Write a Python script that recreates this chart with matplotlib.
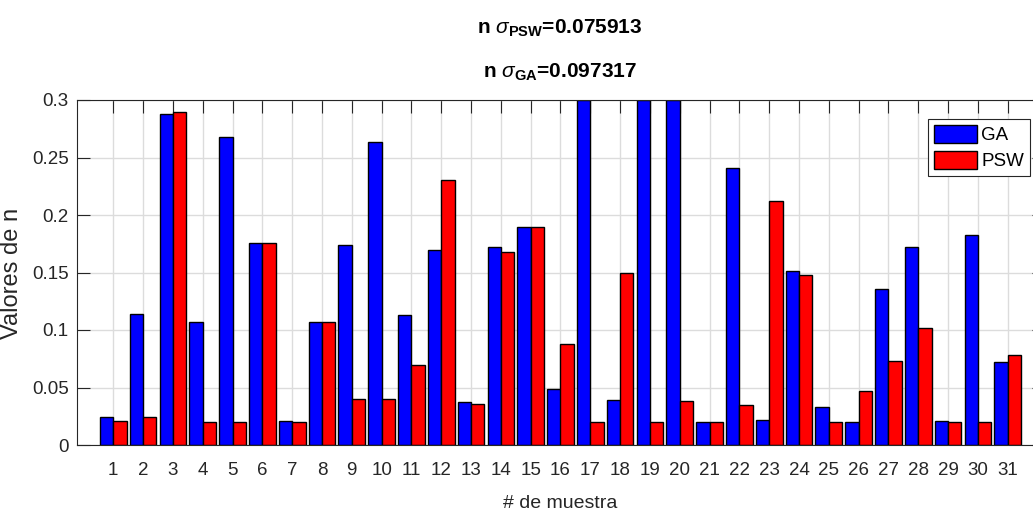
import numpy as np
import matplotlib.pyplot as plt
from matplotlib.ticker import FixedLocator, FuncFormatter

plt.rcParams['font.family'] = ['Liberation Sans', 'DejaVu Sans']
plt.rcParams['mathtext.fontset'] = 'custom'
plt.rcParams['mathtext.rm'] = 'Liberation Sans'
plt.rcParams['mathtext.it'] = 'Liberation Sans:italic'
plt.rcParams['mathtext.bf'] = 'Liberation Sans:bold'

muestras = np.arange(1, 32)
ga = [0.024, 0.114, 0.2875, 0.107, 0.268, 0.176, 0.021, 0.107, 0.174, 0.2635,
      0.113, 0.170, 0.037, 0.172, 0.190, 0.049, 0.300, 0.039, 0.300, 0.300,
      0.020, 0.241, 0.022, 0.151, 0.033, 0.020, 0.136, 0.172, 0.021, 0.183, 0.072]
psw = [0.021, 0.024, 0.2895, 0.020, 0.020, 0.176, 0.020, 0.107, 0.040, 0.040,
       0.070, 0.2305, 0.036, 0.168, 0.190, 0.088, 0.020, 0.150, 0.020, 0.038,
       0.020, 0.035, 0.212, 0.148, 0.020, 0.047, 0.073, 0.102, 0.020, 0.020, 0.078]
sigma_psw = 0.075913
sigma_ga = 0.097317

fig = plt.figure(figsize=(10.33, 5.17), dpi=100)
ax = fig.add_axes([77 / 1033, 72 / 517, 967 / 1033, 345 / 517])

w = 0.447
ax.bar(muestras - w / 2, ga, w, color='#0000ff', edgecolor='black', linewidth=1, label='GA', zorder=2)
ax.bar(muestras + w / 2, psw, w, color='#ff0000', edgecolor='black', linewidth=1, label='PSW', zorder=2)

ax.set_xlim(-0.218, 32.218)
ax.set_ylim(0, 0.3)
ax.xaxis.set_major_locator(FixedLocator(muestras))
ax.set_yticks(np.arange(0, 0.301, 0.05))
ax.yaxis.set_major_formatter(FuncFormatter(lambda v, p: '%g' % round(v, 2)))
ax.tick_params(direction='in', length=9, width=0.8, colors='#262626', labelsize=13.5,
               top=True, right=True)
ax.tick_params(axis='x', pad=12)
ax.tick_params(axis='y', pad=6)
ax.grid(True, color='#dcdcdc', linewidth=1, zorder=0)
ax.set_axisbelow(True)
for s in ax.spines.values():
    s.set_color('#262626')
    s.set_linewidth(0.8)

ax.set_xlabel('# de muestra', fontsize=14, color='#262626')
ax.xaxis.label.set_va('center')
ax.xaxis.set_label_coords(560 / 1033, 1 - 504 / 517, transform=fig.transFigure)
ax.set_ylabel('Valores de n', fontsize=17, color='#262626')
ax.yaxis.set_label_coords(23 / 1033, 1 - 273 / 517, transform=fig.transFigure)

fig.text(560 / 1033, 1 - 28 / 517, r'n $\sigma_{\mathbf{PSW}}$=%g' % sigma_psw,
         ha='center', va='center', fontsize=15, fontweight='bold')
fig.text(560 / 1033, 1 - 72 / 517, r'n $\sigma_{\mathbf{GA}}$=%g' % sigma_ga,
         ha='center', va='center', fontsize=15, fontweight='bold')

leg = ax.legend(loc='upper right', bbox_to_anchor=(1030 / 1033, 1 - 119 / 517),
                bbox_transform=fig.transFigure, fontsize=13.5, fancybox=False,
                handlelength=2.3, handleheight=1.1, borderaxespad=0, borderpad=0.3,
                labelspacing=0.35, handletextpad=0.25, framealpha=1)
leg.get_frame().set_edgecolor('#262626')
leg.get_frame().set_linewidth(0.8)

fig.savefig('out.png', dpi=100)
